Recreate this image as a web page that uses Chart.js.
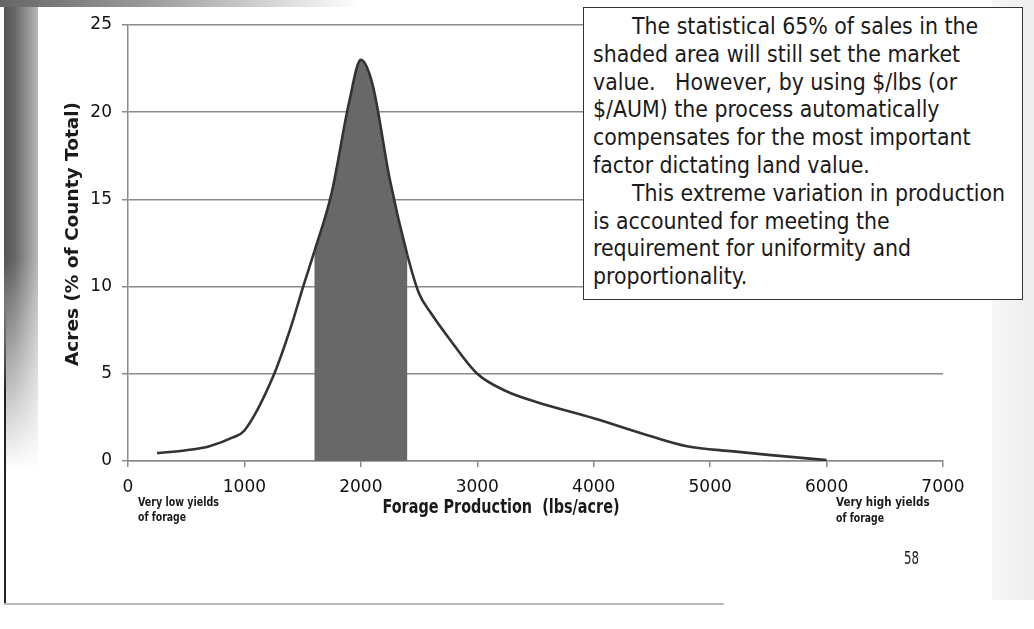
<!DOCTYPE html>
<html lang="en">
<head>
    <meta charset="UTF-8">
    <title>Forage Production Distribution</title>
    <script src="https://cdn.jsdelivr.net/npm/chart.js"></script>
    <style>
        html, body { margin: 0; padding: 0; background: #fff; }
        body { width: 1034px; height: 629px; position: relative; overflow: hidden; font-family: "DejaVu Sans", sans-serif; }
        #wrap { position: absolute; left: 0; top: 0; width: 1034px; height: 629px; }
        .strip { position: absolute; left: 4px; top: 0; width: 34px; height: 470px;
            background: linear-gradient(to bottom, rgba(255,255,255,0) 55%, #fff 100%),
                        linear-gradient(to right, #555, #666 30%, #b8b8b8 100%); }
        .topbar { position: absolute; left: 0; top: 0; width: 360px; height: 7px;
            background: linear-gradient(to right, #666, #999 40%, rgba(255,255,255,0)); }
        .edge { position: absolute; left: 4px; top: 300px; width: 2px; height: 304px;
            background: linear-gradient(to bottom, rgba(20,20,20,0), #222 30%); }
        .bottom { position: absolute; left: 4px; top: 603px; width: 720px; height: 2px; background: #bbb; }
        .rightside { position: absolute; left: 992px; top: 0; width: 42px; height: 600px;
            background: linear-gradient(to right, #f6f6f6, #eeeeee); }
        #note { position: absolute; left: 583px; top: 7px; width: 440px; height: 293px;
            border: 1.5px solid #333; background: #fff; box-sizing: border-box;
            padding: 5px 0 0 9px; color: #1a1a1a;
            font-family: "DejaVu Sans Condensed", "DejaVu Sans", sans-serif; font-size: 22.8px;
            line-height: 27.8px; white-space: nowrap; }
        #note .in { padding-left: 39px; }
    </style>
</head>
<body>
    <div class="rightside"></div>
    <div class="strip"></div>
    <div class="topbar"></div>
    <div class="edge"></div>
    <div class="bottom"></div>
    <div id="wrap"><canvas id="forageChart" width="1034" height="629"></canvas></div>
    <div id="note">
        <div class="in">The statistical 65% of sales in the</div>
        <div>shaded area will still set the market</div>
        <div>value.&nbsp;&nbsp; However, by using $/lbs (or</div>
        <div>$/AUM) the process automatically</div>
        <div>compensates for the most important</div>
        <div>factor dictating land value.</div>
        <div class="in">This extreme variation in production</div>
        <div>is accounted for meeting the</div>
        <div>requirement for uniformity and</div>
        <div>proportionality.</div>
    </div>

    <script>
        // curve: forage production (lbs/acre) vs % of county acres
        const forageLbs = [250, 500, 700, 900, 1000, 1250, 1400, 1500, 1600, 1750, 1900, 2000, 2100, 2250,
                           2400, 2500, 2600, 2750, 3000, 3250, 3500, 4000, 4500, 4800, 5200, 5500, 6000];
        const acresPct = [0.45, 0.62, 0.85, 1.35, 1.75, 4.9, 7.7, 9.9, 12.0, 15.4, 20.6, 23, 21.6, 16.1,
                          11.8, 9.6, 8.5, 7.1, 5.0, 4.0, 3.4, 2.45, 1.4, 0.85, 0.55, 0.35, 0.05];

        // the 65% band that is shaded
        const shadeFrom = 1600;
        const shadeTo = 2400;

        const xTicks = [0, 1000, 2000, 3000, 4000, 5000, 6000, 7000];
        const yTicks = [0, 5, 10, 15, 20, 25];

        const xTitle = 'Forage Production  (lbs/acre)';
        const yTitle = 'Acres (% of County Total)';
        const lowNote = ['Very low yields', 'of forage'];
        const highNote = ['Very high yields', 'of forage'];
        const pageNo = '58';

        const narrow = '"Liberation Sans Narrow", "DejaVu Sans Condensed", sans-serif';

        // titles and side notes drawn at fixed spots, like on the slide
        const slideText = {
            id: 'slideText',
            afterDraw(chart) {
                const ctx = chart.ctx;
                ctx.save();
                ctx.fillStyle = '#1a1a1a';

                ctx.save();
                ctx.translate(73, 234);
                ctx.rotate(-Math.PI / 2);
                ctx.font = 'bold 18.5px "DejaVu Sans", sans-serif';
                ctx.textAlign = 'center';
                ctx.textBaseline = 'middle';
                ctx.fillText(yTitle, 0, 0, 272);
                ctx.restore();

                ctx.font = 'bold 19px ' + narrow;
                ctx.textAlign = 'center';
                ctx.textBaseline = 'middle';
                ctx.fillText(xTitle, 501, 508, 237);

                ctx.font = 'bold 11.5px ' + narrow;
                ctx.textAlign = 'left';
                ctx.fillText(lowNote[0], 138, 503, 81);
                ctx.fillText(lowNote[1], 138, 518, 48);
                ctx.fillText(highNote[0], 836, 503, 102);
                ctx.fillText(highNote[1], 836, 519, 48);

                ctx.font = '17px ' + narrow;
                ctx.fillText(pageNo, 904, 560, 15);
                ctx.restore();
            }
        };

        new Chart(document.getElementById('forageChart').getContext('2d'), {
            type: 'line',
            data: {
                datasets: [{
                    label: 'Acres',
                    data: forageLbs.map((x, i) => ({ x: x, y: acresPct[i] })),
                    borderColor: '#333',
                    borderWidth: 2.6,
                    pointRadius: 0,
                    cubicInterpolationMode: 'monotone',
                    fill: 'origin',
                    backgroundColor: 'rgba(0,0,0,0)',
                    segment: {
                        backgroundColor: c => (c.p0.parsed.x >= shadeFrom && c.p1.parsed.x <= shadeTo) ? '#686868' : 'rgba(0,0,0,0)'
                    }
                }]
            },
            options: {
                responsive: false,
                animation: false,
                layout: { padding: { left: 0, right: 91, top: 25, bottom: 0 } },
                plugins: { legend: { display: false }, tooltip: { enabled: false } },
                scales: {
                    x: {
                        type: 'linear',
                        min: 0,
                        max: 7000,
                        afterBuildTicks: s => { s.ticks = xTicks.map(v => ({ value: v })); },
                        afterFit: s => { s.height = 168; },
                        grid: { drawOnChartArea: false, drawTicks: true, tickLength: 6, color: '#8a8a8a', lineWidth: 1.5 },
                        border: { color: '#8a8a8a', width: 1.5 },
                        ticks: { color: '#111', padding: 10, maxRotation: 0, callback: v => String(v),
                                 font: { family: '"DejaVu Sans", sans-serif', size: 17 } }
                    },
                    y: {
                        min: 0,
                        max: 25,
                        afterBuildTicks: s => { s.ticks = yTicks.map(v => ({ value: v })); },
                        afterFit: s => { s.width = 128; },
                        grid: { color: '#8a8a8a', lineWidth: 1.5, tickLength: 6 },
                        border: { color: '#8a8a8a', width: 1.5 },
                        ticks: { color: '#111', padding: 10, callback: v => String(v),
                                 font: { family: '"DejaVu Sans", sans-serif', size: 17 } }
                    }
                }
            },
            plugins: [slideText]
        });
    </script>
</body>
</html>
